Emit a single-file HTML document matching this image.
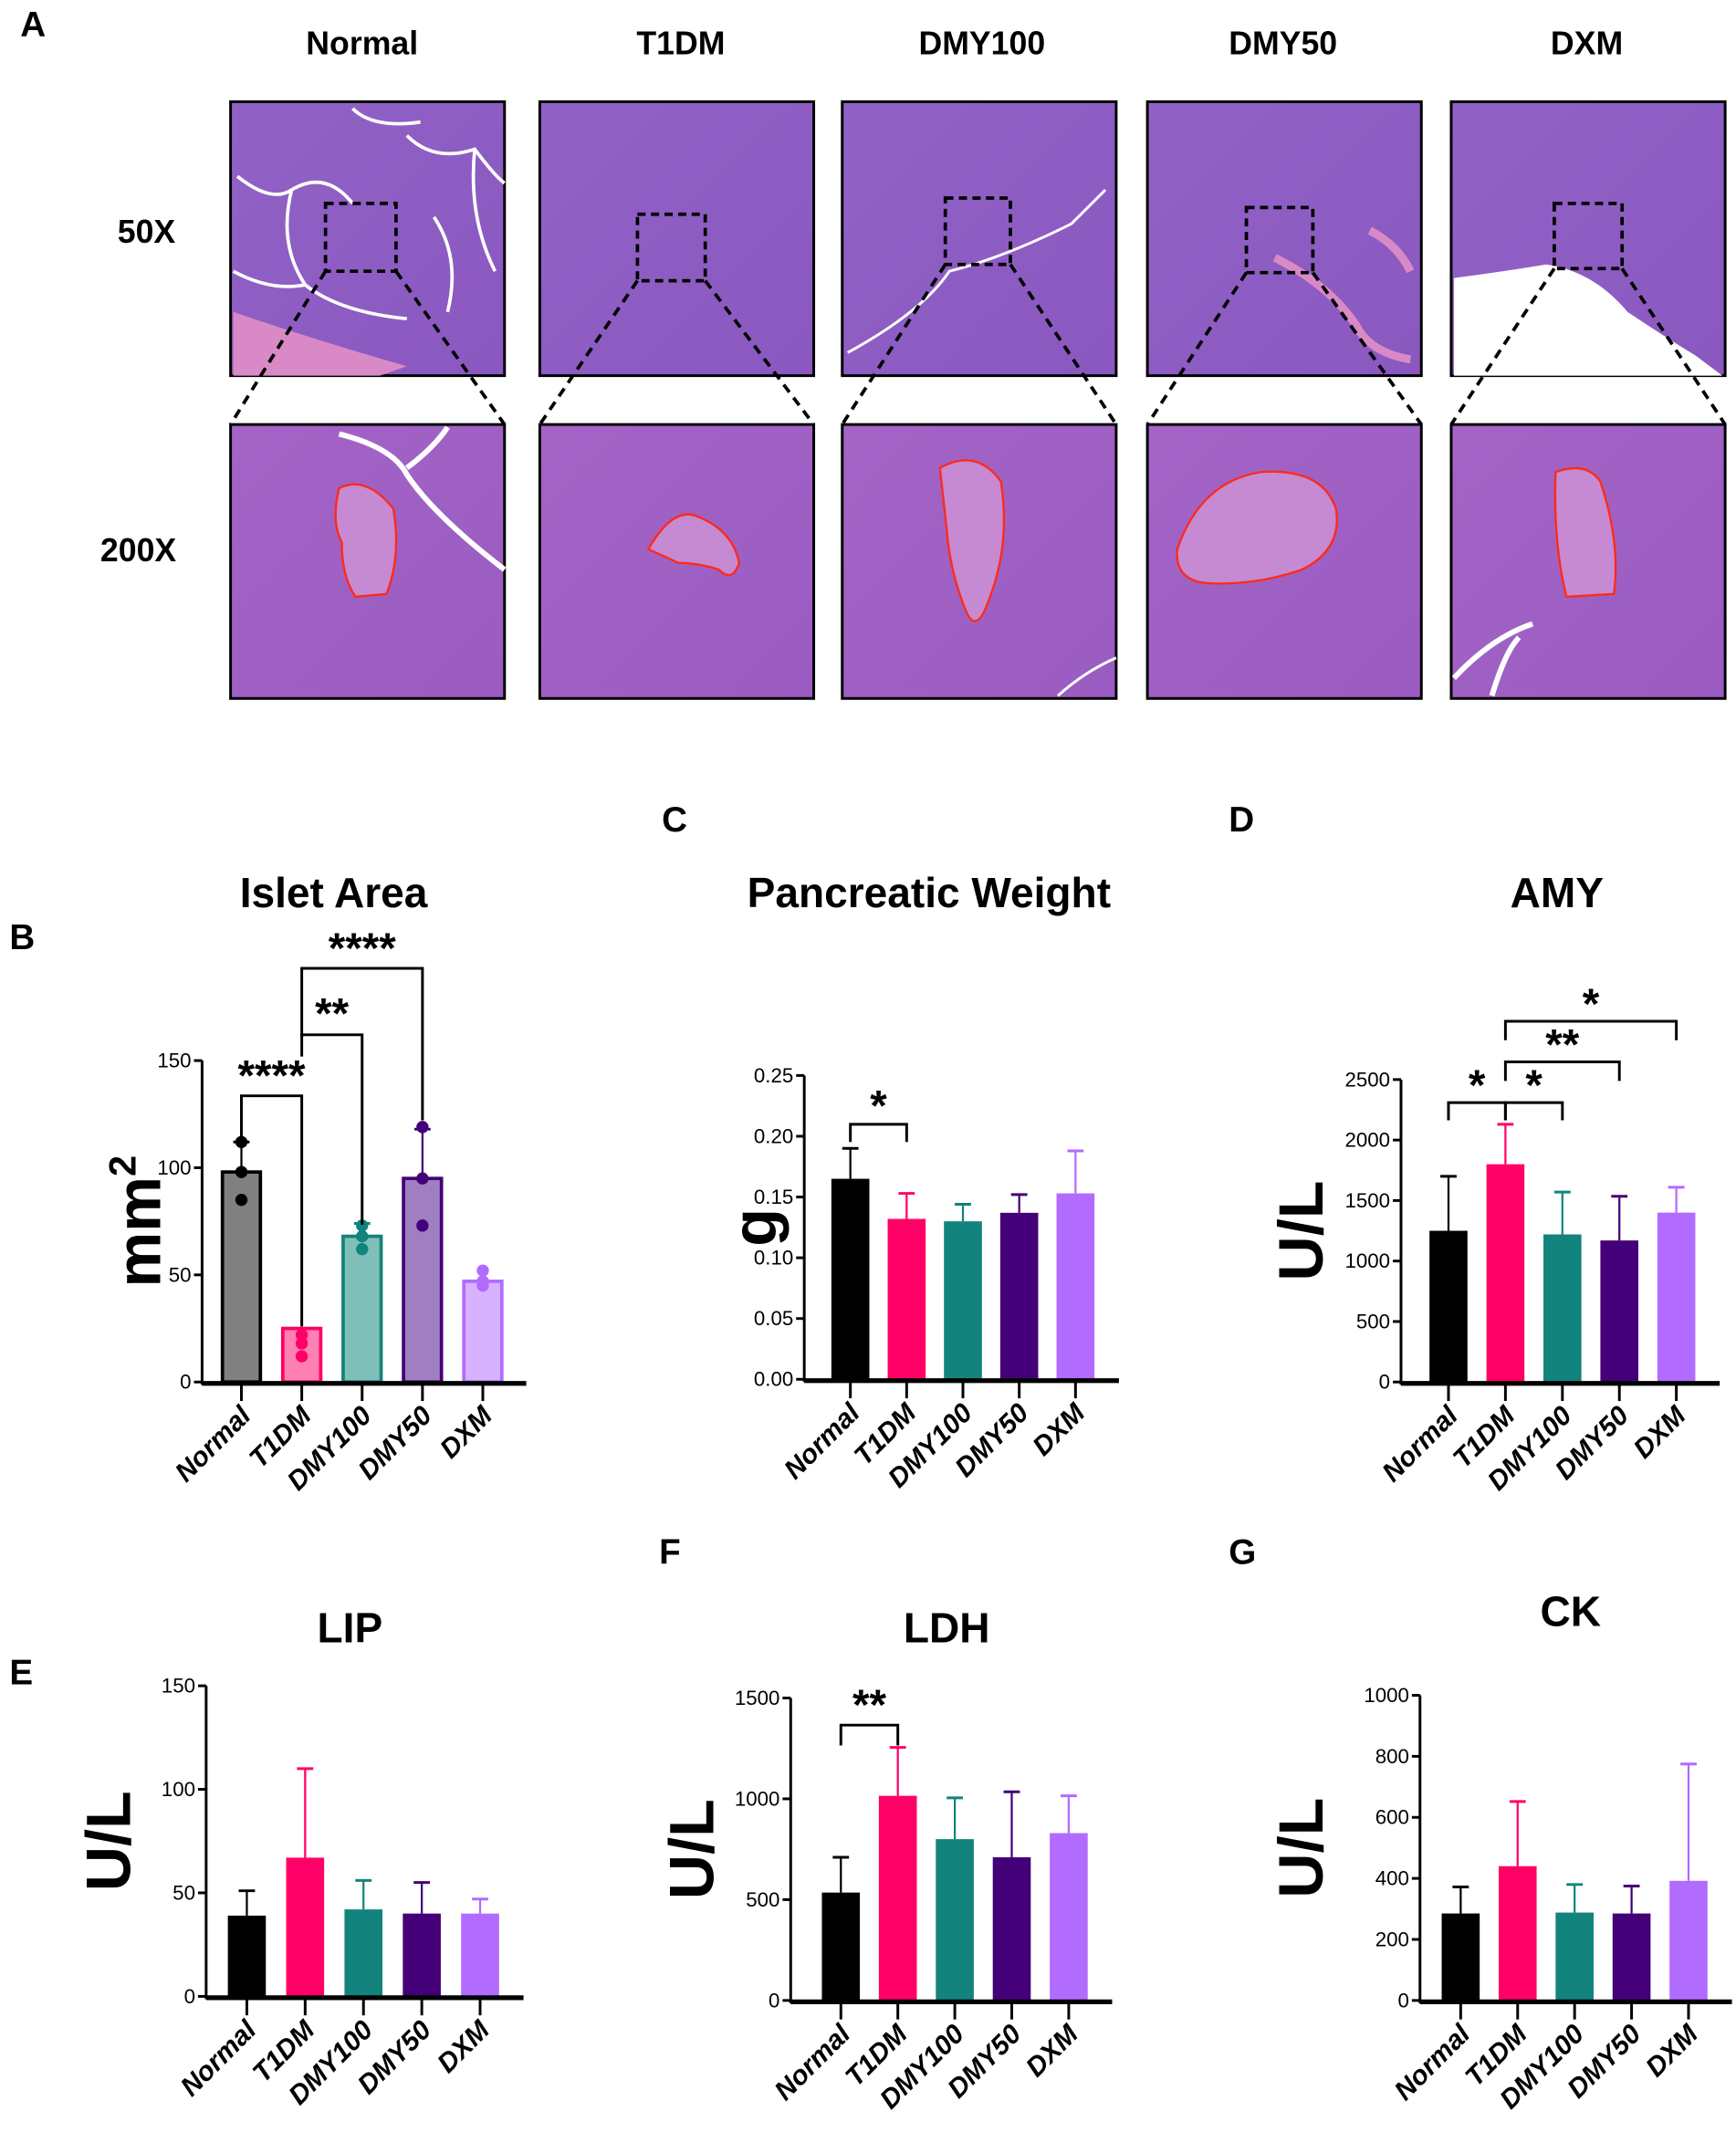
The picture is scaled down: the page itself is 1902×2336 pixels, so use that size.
<!DOCTYPE html>
<html><head><meta charset="utf-8">
<style>
html,body{margin:0;padding:0;background:#fff;}
svg{display:block;}
text{font-family:"Liberation Sans Narrow","Liberation Sans",sans-serif;}
.hd{font-family:"Liberation Sans",sans-serif;font-weight:bold;}
</style></head>
<body>
<svg id="fig" width="1902" height="2336" viewBox="0 0 1280 1572" preserveAspectRatio="none" xmlns="http://www.w3.org/2000/svg">
<defs>
<linearGradient id="g50" x1="0" y1="0" x2="1" y2="1"><stop offset="0" stop-color="#9162c6"/><stop offset="1" stop-color="#8a58c0"/></linearGradient>
<linearGradient id="g200" x1="0" y1="0" x2="1" y2="1"><stop offset="0" stop-color="#a464c6"/><stop offset="1" stop-color="#9a5cc2"/></linearGradient>
</defs>
<g id="histo">
<text class="hd" x="15" y="27" font-size="26">A</text>
<text class="hd" x="267" y="40" font-size="24" text-anchor="middle">Normal</text>
<text class="hd" x="502" y="40" font-size="24" text-anchor="middle">T1DM</text>
<text class="hd" x="724" y="40" font-size="24" text-anchor="middle">DMY100</text>
<text class="hd" x="946" y="40" font-size="24" text-anchor="middle">DMY50</text>
<text class="hd" x="1170" y="40" font-size="24" text-anchor="middle">DXM</text>
<text class="hd" x="108" y="179" font-size="24" text-anchor="middle">50X</text>
<text class="hd" x="102" y="414" font-size="24" text-anchor="middle">200X</text>
</g>
<g id="charts"></g>
</svg>
<script>
// ---------- histology ----------
const histX = [170, 398, 621, 846, 1070];
const zoomBoxes = [[240,150,292,200],[470,158,520,207],[697,146,745,195],[919,153,968,201],[1146,150,1196,198]];
const histNames = ['normal','t1dm','dmy100','dmy50','dxm'];
const NS = 'http://www.w3.org/2000/svg';
const histo = document.getElementById('histo');
function mk(tag, attrs, parent){ const e=document.createElementNS(NS,tag); for(const k in attrs) e.setAttribute(k,attrs[k]); (parent||histo).appendChild(e); return e; }
const islets = [
 'M250,360 Q270,350 290,375 Q296,410 285,438 L262,440 Q252,425 252,400 Q244,385 250,360Z',
 'M478,405 Q495,375 512,380 Q540,390 545,415 Q540,430 530,420 Q515,415 500,415 Q485,408 478,405Z',
 'M693,345 Q720,330 738,355 Q745,400 730,440 Q720,470 712,450 Q700,420 698,390Z',
 'M868,405 Q885,355 930,348 Q975,345 985,375 Q990,405 960,420 Q925,432 890,430 Q866,428 868,405Z',
 'M1147,348 Q1170,340 1180,355 Q1195,400 1190,438 L1155,440 Q1145,400 1147,348Z'
];
histX.forEach((x,i)=>{
  mk('rect',{x:x,y:75,width:202,height:202,fill:'url(#g50)',stroke:'#000','stroke-width':2,});
  mk('rect',{x:x,y:313,width:202,height:202,fill:'url(#g200)',stroke:'#000','stroke-width':2,});
});
mk('path',{d:'M175,130 Q200,150 215,140 Q240,125 260,150 M215,140 Q205,180 225,210 Q250,230 300,235 M300,100 Q320,120 350,110 Q365,130 372,135 M260,80 Q275,95 310,90 M172,200 Q200,215 225,210 M320,160 Q340,190 330,230 M350,110 Q345,160 365,200',fill:'none',stroke:'#fff','stroke-width':2.5,});
mk('path',{d:'M172,230 Q230,250 300,270 L280,277 L172,277Z',fill:'#d98ac6',});
mk('path',{d:'M250,320 Q290,330 300,350 Q320,380 372,420 M330,315 Q320,330 300,345',fill:'none',stroke:'#fff','stroke-width':4,});
mk('path',{d:'M625,260 Q680,230 700,200 Q740,190 790,165 Q805,150 815,140 M780,513 Q800,495 823,485',fill:'none',stroke:'#fff','stroke-width':2,});
mk('path',{d:'M940,190 Q980,210 1000,240 Q1010,260 1040,265 M1010,170 Q1030,180 1040,200',fill:'none',stroke:'#d98ac6','stroke-width':6,});
mk('path',{d:'M1072,277 L1072,205 Q1110,200 1140,195 Q1175,200 1200,230 Q1230,250 1250,262 L1270,277Z',fill:'#fff',});
mk('path',{d:'M1072,500 Q1100,470 1130,460 M1100,513 Q1110,480 1120,470',fill:'none',stroke:'#fff','stroke-width':4,});
histX.forEach((x,i)=>{
  const b=zoomBoxes[i];
  mk('rect',{x:b[0],y:b[1],width:b[2]-b[0],height:b[3]-b[1],fill:'none',stroke:'#000','stroke-width':2.5,'stroke-dasharray':'6,4',});
  mk('line',{x1:b[0],y1:b[3],x2:x,y2:313,stroke:'#000','stroke-width':2.5,'stroke-dasharray':'7,5',});
  mk('line',{x1:b[2],y1:b[3],x2:x+202,y2:313,stroke:'#000','stroke-width':2.5,'stroke-dasharray':'7,5',});
  mk('path',{d:islets[i],fill:'#c58ad2',stroke:'#ff2a1a','stroke-width':1.6,});
});

// ---------- charts ----------
const groups = ['Normal','T1DM','DMY100','DMY50','DXM'];
const fillColors = ['#000000','#ff0066','#13837d','#430078','#b26bff'];
const isletFill = ['#808080','#ff80b3','#80bfb9','#9f7fc0','#d7b2ff'];

const isletMeans = [98, 25, 68, 95, 47];
const isletErr = [112, 25, 74, 118, 47];
const isletTicks = [0, 50, 100, 150];
const isletPoints = [[112,98,85],[22,18,12],[73,68,62],[119,95,73],[52,47,45]];

const weightMeans = [0.165, 0.132, 0.130, 0.137, 0.153];
const weightErr = [0.190, 0.153, 0.144, 0.152, 0.188];
const weightTicks = ['0.00','0.05','0.10','0.15','0.20','0.25'];

const amyMeans = [1250, 1800, 1220, 1170, 1400];
const amyErr = [1700, 2130, 1570, 1535, 1610];
const amyTicks = [0, 500, 1000, 1500, 2000, 2500];

const lipMeans = [39, 67, 42, 40, 40];
const lipErr = [51, 110, 56, 55, 47];
const lipTicks = [0, 50, 100, 150];

const ldhMeans = [535, 1015, 800, 710, 830];
const ldhErr = [710, 1255, 1005, 1035, 1015];
const ldhTicks = [0, 500, 1000, 1500];

const ckMeans = [285, 440, 288, 285, 392];
const ckErr = [372, 652, 380, 375, 775];
const ckTicks = [0, 200, 400, 600, 800, 1000];

const charts = document.getElementById('charts');
function el(tag, attrs, parent){ const e=document.createElementNS(NS,tag); for(const k in attrs) e.setAttribute(k,attrs[k]); parent.appendChild(e); return e; }

function drawChart(c){
  const g = el('g',{},charts);
  
  
  const maxV = parseFloat(c.ticks[c.ticks.length-1]);
  const y = v => c.y0 - (v/maxV)*(c.y0-c.yTop);
  const xs = i => c.x1 + c.dx*i;
  const L = el('text',{x:c.lx,y:c.ly,'font-size':26,class:'hd'},g); L.textContent=c.letter;
  
  
  const T = el('text',{x:c.tx,y:c.ty,'font-size':31,class:'hd','text-anchor':'middle'},g); T.textContent=c.title;
  
  
  const YT = el('text',{x:0,y:0,'font-size':c.ytSize||46,class:'hd','text-anchor':'middle',transform:`translate(${c.ytx},${(c.y0+c.yTop)/2}) rotate(-90)`},g);
  YT.innerHTML = c.ytitle;
  
  
  const bw = 28;
  c.means.forEach((m,i)=>{
    const cx = xs(i);
    const col = c.fills ? c.fills[i] : fillColors[i];
    const eb = el('g',{},g);
    
    
    el('line',{x1:cx,y1:y(m),x2:cx,y2:y(c.err[i]),stroke:fillColors[i],'stroke-width':1.5},eb);
    el('line',{x1:cx-6,y1:y(c.err[i]),x2:cx+6,y2:y(c.err[i]),stroke:fillColors[i],'stroke-width':2},eb);
    const r = el('rect',{x:cx-bw/2,y:y(m),width:bw,height:c.y0-y(m),fill:col,stroke:c.fills?fillColors[i]:'none','stroke-width':c.fills?2.5:0},g);
    
    
    if(c.points){
      c.points[i].forEach(p=>{
        const d = el('circle',{cx:cx,cy:y(p),r:4.5,fill:fillColors[i]},g);
        
        
      });
    }
  });
  const xEnd = xs(4)+32;
  const ax = el('line',{x1:c.xa,y1:c.y0+1,x2:xEnd,y2:c.y0+1,stroke:'#000','stroke-width':3.5},g);
  
  
  const ay = el('line',{x1:c.xa,y1:c.yTop,x2:c.xa,y2:c.y0+2,stroke:'#000','stroke-width':2},g);
  
  
  c.ticks.forEach(t=>{
    const v=parseFloat(t);
    el('line',{x1:c.xa-6,y1:y(v),x2:c.xa,y2:y(v),stroke:'#000','stroke-width':2},g);
    const tl = el('text',{x:c.xa-8,y:y(v)+5,'font-size':15,'text-anchor':'end'},g);
    tl.textContent = t;
    
    
  });
  groups.forEach((name,i)=>{
    const cx=xs(i);
    el('line',{x1:cx,y1:c.y0+2,x2:cx,y2:c.y0+14,stroke:'#000','stroke-width':2},g);
    const xl = el('text',{x:0,y:0,'font-size':20,'font-weight':'bold','font-style':'italic','text-anchor':'end',transform:`translate(${cx+8},${c.y0+26}) rotate(-45)`},g);
    xl.textContent = name;
    
    
  });
  // significance brackets: [from, to, bracketY, leftLegEnd, rightLegEnd, label, textBaseline]
  (c.sig||[]).forEach(s=>{
    const a=xs(s[0]), b=xs(s[1]);
    const sg = el('g',{},g);
    
    
    el('path',{d:`M${a},${s[3]} L${a},${s[2]} L${b},${s[2]} L${b},${s[4]}`,fill:'none',stroke:'#000','stroke-width':2},sg);
    const st = el('text',{x:(a+b)/2,y:s[6],'font-size':32,class:'hd','text-anchor':'middle'},sg);
    st.textContent = s[5];
  });
}

drawChart({id:'islet-area',letter:'B',lx:7,ly:700,title:'Islet Area',tx:246,ty:669,ytitle:'mm<tspan font-size="28" dy="-18">2</tspan>',ytx:118,
  xa:149,y0:1019,yTop:782,x1:178,dx:44.5,means:isletMeans,err:isletErr,ticks:isletTicks,fills:isletFill,points:isletPoints,
  sig:[[0,1,808,842,978,'****',804],[1,2,763,779,903,'**',758],[1,3,714,765,826,'****',710]]});
drawChart({id:'pancreatic-weight',letter:'C',lx:488,ly:613,title:'Pancreatic Weight',tx:685,ty:669,ytitle:'g',ytx:572,
  xa:593,y0:1017,yTop:793,x1:627,dx:41.5,means:weightMeans,err:weightErr,ticks:weightTicks,
  sig:[[0,1,829,842,842,'*',826]]});
drawChart({id:'amy',letter:'D',lx:906,ly:613,title:'AMY',tx:1148,ty:669,ytitle:'U/L',ytx:975,
  xa:1033,y0:1019,yTop:796,x1:1068,dx:42,means:amyMeans,err:amyErr,ticks:amyTicks,
  sig:[[0,1,813,826,826,'*',811],[1,2,813,826,826,'*',811],[1,3,783,797,797,'**',781],[1,4,753,767,767,'*',751]]});
drawChart({id:'lip',letter:'E',lx:7,ly:1242,title:'LIP',tx:258,ty:1211,ytitle:'U/L',ytx:96,
  xa:152,y0:1472,yTop:1243,x1:182,dx:43,means:lipMeans,err:lipErr,ticks:lipTicks});
drawChart({id:'ldh',letter:'F',lx:486,ly:1153,title:'LDH',tx:698,ty:1211,ytitle:'U/L',ytx:526,
  xa:583,y0:1475,yTop:1252,x1:620,dx:42,means:ldhMeans,err:ldhErr,ticks:ldhTicks,
  sig:[[0,1,1272,1287,1287,'**',1268]]});
drawChart({id:'ck',letter:'G',lx:906,ly:1153,title:'CK',tx:1158,ty:1199,ytitle:'U/L',ytx:975,
  xa:1047,y0:1475,yTop:1250,x1:1077,dx:42,means:ckMeans,err:ckErr,ticks:ckTicks});
</script>
</body></html>
